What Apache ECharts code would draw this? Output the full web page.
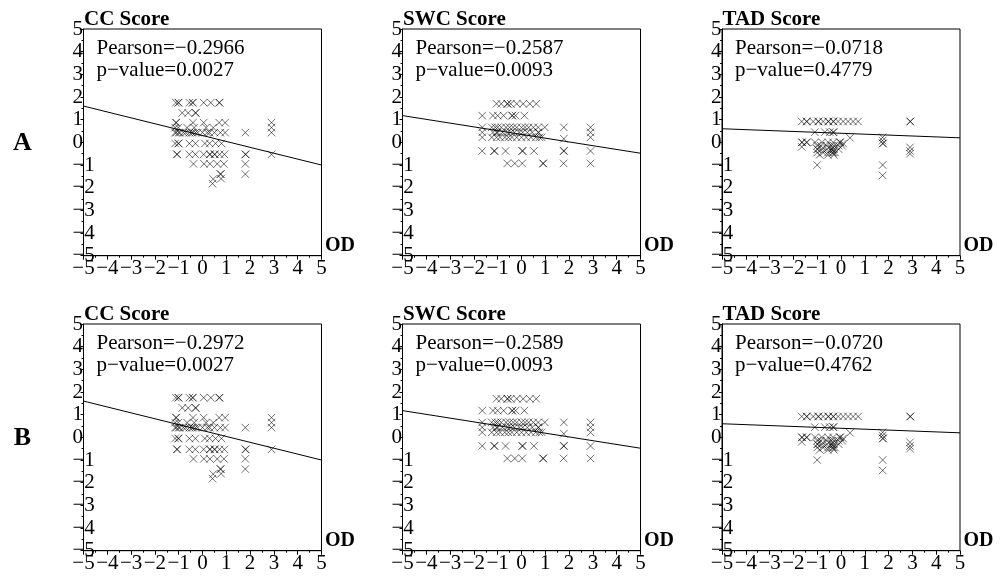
<!DOCTYPE html>
<html>
<head>
<meta charset="utf-8">
<script src="https://cdn.jsdelivr.net/npm/echarts@6/dist/echarts.min.js"></script>
<style>html,body{margin:0;padding:0;background:#fff}#c{width:1000px;height:578px}</style>
</head>
<body>
<div id="c"></div>
<script>
const panelTitles = ['CC Score', 'SWC Score', 'TAD Score'];
const rowLabels = ['A', 'B'];
const pearsonA = ['Pearson=\u22120.2966', 'Pearson=\u22120.2587', 'Pearson=\u22120.0718'];
const pvalueA = ['p\u2212value=0.0027', 'p\u2212value=0.0093', 'p\u2212value=0.4779'];
const pearsonB = ['Pearson=\u22120.2972', 'Pearson=\u22120.2589', 'Pearson=\u22120.0720'];
const pvalueB = ['p\u2212value=0.0027', 'p\u2212value=0.0093', 'p\u2212value=0.4762'];
const xName = 'OD';

const pointsCC = [
 [-1.12,1.75],[-1.02,1.75],[-1.0,1.75],[-0.55,1.75],[-0.42,1.75],[-0.4,1.75],[0.05,1.75],[0.35,1.75],[0.7,1.75],[0.72,1.75],
 [-0.85,1.3],[-0.6,1.3],[-0.3,1.3],[-0.28,1.3],
 [-1.12,0.87],[-1.1,0.87],[-0.4,0.87],[0.05,0.87],[0.7,0.87],[0.95,0.87],[2.9,0.87],
 [-1.15,0.65],[-1.02,0.65],[-0.65,0.65],[-0.35,0.65],[0.15,0.65],[0.45,0.65],[2.9,0.65],
 [-1.15,0.43],[-1.1,0.43],[-1.0,0.43],[-0.95,0.43],[-0.8,0.43],[-0.7,0.43],[-0.55,0.43],[-0.45,0.43],[-0.4,0.43],[-0.3,0.43],[-0.2,0.43],[0.0,0.43],[0.2,0.43],[0.3,0.43],[0.5,0.43],[0.75,0.43],[0.95,0.43],[1.8,0.43],[2.9,0.43],
 [-1.15,-0.05],[-1.02,-0.05],[-1.0,-0.05],[-0.55,-0.05],[-0.3,-0.05],[0.1,-0.05],[0.3,-0.05],[0.55,-0.05],[0.8,-0.05],
 [-1.08,-0.53],[-1.06,-0.53],[-0.55,-0.53],[-0.3,-0.53],[0.05,-0.53],[0.3,-0.53],[0.32,-0.53],[0.5,-0.53],[0.52,-0.53],[0.72,-0.53],[0.92,-0.53],[1.8,-0.53],[1.82,-0.53],[2.9,-0.53],
 [-0.38,-0.95],[0.06,-0.95],[0.31,-0.95],[0.62,-0.95],[0.9,-0.95],[1.8,-0.95],
 [0.75,-1.4],[0.77,-1.4],[1.8,-1.4],[0.45,-1.62],[0.78,-1.6],[0.42,-1.82]
];
const pointsSWC = [
 [-1.05,1.7],[-0.85,1.7],[-0.6,1.7],[-0.58,1.7],[-0.45,1.7],[-0.2,1.7],[0.07,1.7],[0.35,1.7],[0.62,1.7],
 [-1.65,1.18],[-1.2,1.18],[-1.0,1.18],[-0.75,1.18],[-0.4,1.18],[-0.38,1.18],[-0.25,1.18],[0.12,1.18],
 [-1.65,0.66],[-1.25,0.66],[-1.1,0.66],[-1.0,0.66],[-0.85,0.66],[-0.65,0.66],[-0.5,0.66],[-0.35,0.66],[-0.2,0.66],[0.0,0.66],[0.15,0.66],[0.3,0.66],[0.5,0.66],[0.7,0.66],[0.98,0.66],[1.78,0.66],[2.9,0.66],
 [-1.65,0.44],[-1.2,0.44],[-1.05,0.44],[-1.0,0.44],[-0.8,0.44],[-0.6,0.44],[-0.45,0.44],[-0.3,0.44],[-0.1,0.44],[0.05,0.44],[0.25,0.44],[0.45,0.44],[0.7,0.44],[0.72,0.44],[2.9,0.44],
 [-1.65,0.22],[-1.25,0.22],[-1.05,0.22],[-0.9,0.22],[-0.7,0.22],[-0.55,0.22],[-0.4,0.22],[-0.2,0.22],[0.0,0.22],[0.2,0.22],[0.4,0.22],[0.6,0.22],[0.75,0.22],[0.85,0.22],[2.9,0.22],
 [1.78,0.16],
 [-1.65,-0.38],[-1.15,-0.38],[-1.13,-0.38],[-0.67,-0.38],[0.03,-0.38],[0.05,-0.38],[0.52,-0.38],[1.77,-0.38],[1.79,-0.38],[2.9,-0.38],
 [-0.6,-0.93],[-0.28,-0.93],[0.03,-0.93],[0.9,-0.93],[0.92,-0.93],[1.77,-0.93],[2.9,-0.93]
];
const pointsTAD = [
 [-1.65,0.92],[-1.45,0.92],[-1.43,0.92],[-1.17,0.92],[-0.96,0.92],[-0.94,0.92],[-0.75,0.92],[-0.54,0.92],[-0.52,0.92],[-0.33,0.92],[-0.31,0.92],[-0.12,0.92],[0.09,0.92],[0.3,0.92],[0.51,0.92],[0.72,0.92],[2.9,0.92],[2.92,0.92],
 [-1.1,0.45],[-0.68,0.45],[-0.47,0.45],[-0.33,0.45],[-0.31,0.45],
 [0.38,0.2],[1.75,0.22],[1.75,0.08],
 [-1.65,0.0],[-1.63,0.0],[-1.45,0.0],[-1.43,0.0],[-1.09,0.0],[-0.8,0.0],[-0.54,0.0],[-0.33,0.0],[-0.05,0.0],[-0.03,0.0],[0.09,-0.05],[1.75,-0.05],[1.77,-0.05],
 [-1.65,-0.2],[-1.0,-0.15],[-0.85,-0.15],[-0.6,-0.15],[-0.4,-0.15],[-0.3,-0.15],[-0.1,-0.15],[0.05,-0.15],
 [-1.0,-0.3],[-0.98,-0.3],[-0.8,-0.3],[-0.6,-0.3],[-0.4,-0.3],[-0.38,-0.3],[-0.3,-0.3],[-0.1,-0.3],
 [-1.0,-0.45],[-0.75,-0.45],[-0.55,-0.45],[-0.35,-0.45],[-0.33,-0.45],[-0.25,-0.45],
 [-0.9,-0.55],[-0.55,-0.55],[-0.3,-0.55],
 [-1.0,-1.0],[1.75,-1.0],[1.75,-1.46],
 [2.9,-0.22],[2.9,-0.38],[2.9,-0.5]
];
const fitCC = [[-5, 1.6], [5, -1.0]];
const fitSWC = [[-5, 1.18], [5, -0.48]];
const fitTAD = [[-5, 0.6], [5, 0.2]];

const pointSets = [pointsCC, pointsSWC, pointsTAD];
const fitSets = [fitCC, fitSWC, fitTAD];

const FONT = "'Liberation Serif','Times New Roman',serif";
const gridLeft = [83.5, 402.5, 722];
const gridTop = [29, 324];
const GW = 238, GH = 226.7;
const fmt = v => String(v).replace('-', '\u2212');

const grids = [], xAxes = [], yAxes = [], series = [], graphics = [];
for (let r = 0; r < 2; r++) {
  for (let c = 0; c < 3; c++) {
    const k = r * 3 + c;
    grids.push({left: gridLeft[c], top: gridTop[r], width: GW, height: GH, show: true,
      borderColor: '#000', borderWidth: 1, backgroundColor: 'transparent', containLabel: false, outerBoundsMode: 'none'});
    xAxes.push({type: 'value', gridIndex: k, min: -5, max: 5, interval: 1,
      axisLine: {show: true, onZero: false, lineStyle: {color: '#000', width: 1}},
      axisTick: {show: true, length: 4, lineStyle: {color: '#000'}},
      minorTick: {show: true, splitNumber: 2, length: 2, lineStyle: {color: '#000'}},
      splitLine: {show: false},
      axisLabel: {color: '#000', fontFamily: FONT, fontSize: 21, margin: 2, formatter: fmt, showMinLabel: true, showMaxLabel: true}});
    yAxes.push({type: 'value', gridIndex: k, min: -5, max: 5, interval: 1,
      axisLine: {show: true, onZero: false, lineStyle: {color: '#000', width: 1}},
      axisTick: {show: true, length: 3, lineStyle: {color: '#000'}},
      minorTick: {show: true, splitNumber: 2, length: 2, lineStyle: {color: '#000'}},
      splitLine: {show: false},
      axisLabel: {color: '#000', fontFamily: FONT, fontSize: 21, margin: 11, align: 'left', formatter: fmt, showMinLabel: true, showMaxLabel: true}});
    series.push({type: 'scatter', xAxisIndex: k, yAxisIndex: k, data: pointSets[c],
      symbol: 'path://M0,0L10,10M10,0L0,10', symbolSize: 7.5, silent: true,
      itemStyle: {color: 'rgba(0,0,0,0)', borderColor: 'rgba(0,0,0,0.7)', borderWidth: 1}});
    series.push({type: 'line', xAxisIndex: k, yAxisIndex: k, data: fitSets[c], symbol: 'none', silent: true,
      lineStyle: {color: '#000', width: 1}});
    const L = gridLeft[c], T = gridTop[r];
    graphics.push({type: 'text', style: {text: panelTitles[c], x: L + 0.5, y: T - 9, font: "bold 21px " + FONT, fill: '#000', verticalAlign: 'middle'}});
    graphics.push({type: 'text', style: {text: (r ? pearsonB : pearsonA)[c], x: L + 13, y: T + 19, font: "21px " + FONT, fill: '#000', verticalAlign: 'middle'}});
    graphics.push({type: 'text', style: {text: (r ? pvalueB : pvalueA)[c], x: L + 13, y: T + 41, font: "21px " + FONT, fill: '#000', verticalAlign: 'middle'}});
    graphics.push({type: 'text', style: {text: xName, x: L + GW + 3.5, y: T + 217, font: "bold 20px " + FONT, fill: '#000', verticalAlign: 'middle'}});
  }
  graphics.push({type: 'text', style: {text: rowLabels[r], x: 22.5, y: gridTop[r] + 114, font: "bold 26px " + FONT, fill: '#000', align: 'center', verticalAlign: 'middle'}});
}

const chart = echarts.init(document.getElementById('c'), null, {renderer: 'canvas'});
chart.setOption({animation: false, backgroundColor: '#fff', grid: grids, xAxis: xAxes, yAxis: yAxes, series: series, graphic: graphics});
</script>
</body>
</html>
